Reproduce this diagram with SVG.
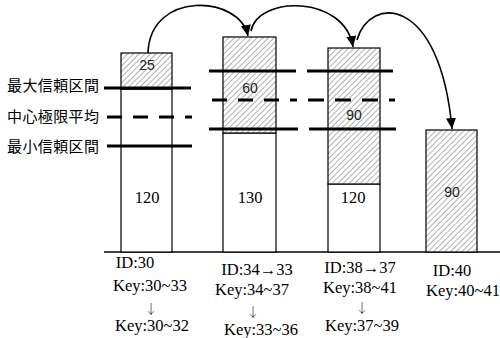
<svg xmlns="http://www.w3.org/2000/svg" width="500" height="338" viewBox="0 0 500 338">
<defs>
<pattern id="hatch" width="4" height="4" patternUnits="userSpaceOnUse" patternTransform="rotate(45)">
<rect width="4" height="4" fill="#fff"/>
<line x1="0" y1="0" x2="0" y2="4" stroke="#6e6e6e" stroke-width="1.1"/>
</pattern>
<marker id="ah" markerUnits="userSpaceOnUse" markerWidth="12" markerHeight="12" refX="11" refY="5" orient="auto">
<path d="M0,0 L11,5 L0,10 z" fill="#000"/>
</marker>
</defs>
<style>
.bar{stroke:#000;stroke-width:1.2}
.h{fill:url(#hatch)}
.w{fill:#fff}
.lim{stroke:#000;stroke-width:3.2}
.mean{stroke:#000;stroke-width:3.2;stroke-dasharray:15 11}
.cjk{font-family:'Noto Sans CJK JP','Noto Sans CJK SC',sans-serif;font-size:15px;fill:#000}
.sn{font-family:'Liberation Sans',Arial,sans-serif;font-size:14px;fill:#222;text-anchor:middle}
.sr{font-family:'Liberation Serif','DejaVu Serif',serif;font-size:16.5px;fill:#000;text-anchor:middle}
.dn{font-family:'Noto Serif CJK JP','Noto Sans CJK JP',serif;font-size:13px;fill:#000;text-anchor:middle}
.arc{fill:none;stroke:#000;stroke-width:1.6;marker-end:url(#ah)}
</style>
<g id="legend">
<text class="cjk" x="7" y="91" textLength="92">最大信頼区間</text>
<text class="cjk" x="7" y="122" textLength="92">中心極限平均</text>
<text class="cjk" x="7" y="152" textLength="92">最小信頼区間</text>
</g>
<g id="baseline"><line x1="104" y1="252" x2="500" y2="252" stroke="#000" stroke-width="1.5"/></g>
<g id="node-30">
<rect class="bar w" x="121" y="89" width="51" height="163"/>
<rect class="bar h" x="121" y="53" width="51" height="36"/>
<text class="sn" x="147" y="70">25</text>
<text class="sr" x="147" y="203">120</text>
<line class="lim" x1="104" y1="88" x2="191" y2="88"/>
<line class="mean" x1="107" y1="117" x2="192" y2="117"/>
<line class="lim" x1="107" y1="146" x2="192" y2="146"/>
<text class="sr" x="135" y="268">ID:30</text>
<text class="sr" x="150" y="291">Key:30~33</text>
<text class="dn" x="151" y="312.5">↓</text>
<text class="sr" x="152" y="331">Key:30~32</text>
</g>
<g id="node-34">
<rect class="bar w" x="223" y="133" width="53" height="119"/>
<rect class="bar h" x="223" y="37" width="53" height="96"/>
<text class="sn" x="250" y="93">60</text>
<text class="sr" x="250" y="203">130</text>
<line class="lim" x1="209" y1="71" x2="296" y2="71"/>
<line class="mean" x1="212" y1="100" x2="297" y2="100"/>
<line class="lim" x1="209" y1="129" x2="298" y2="129"/>
<text class="sr" x="257" y="275">ID:34→33</text>
<text class="sr" x="252" y="295">Key:34~37</text>
<text class="dn" x="253" y="316">↓</text>
<text class="sr" x="261" y="335">Key:33~36</text>
</g>
<g id="node-38">
<rect class="bar w" x="328" y="184" width="52" height="68"/>
<rect class="bar h" x="328" y="48" width="52" height="136"/>
<text class="sn" x="354" y="120">90</text>
<text class="sr" x="353" y="203">120</text>
<line class="lim" x1="307" y1="71" x2="393" y2="71"/>
<line class="mean" x1="308" y1="100" x2="395" y2="100" style="stroke-dasharray:16 11"/>
<line class="lim" x1="309" y1="129" x2="396" y2="129"/>
<text class="sr" x="360" y="273">ID:38→37</text>
<text class="sr" x="360" y="293">Key:38~41</text>
<text class="dn" x="362" y="312">↓</text>
<text class="sr" x="362" y="331">Key:37~39</text>
</g>
<g id="node-40">
<rect class="bar h" x="426" y="130" width="51" height="122"/>
<text class="sn" x="452" y="197">90</text>
<text class="sr" x="452" y="276">ID:40</text>
<text class="sr" x="463" y="296">Key:40~41</text>
</g>
<g id="connectors">
<path class="arc" d="M148,53 C150,-10 240,-5 248,36"/>
<path class="arc" d="M251,31 C258,-5 345,-5 353,47"/>
<path class="arc" d="M357,40 C370,-5 440,-5 452,129"/>
</g>
</svg>
